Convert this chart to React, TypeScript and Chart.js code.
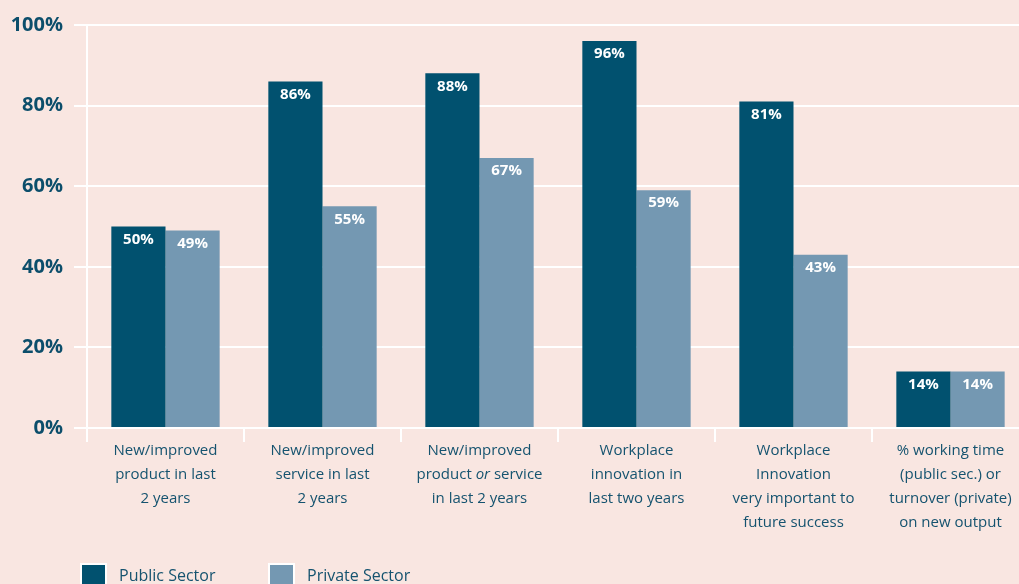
import { useEffect, useRef } from "react";
import { Chart, registerables } from "chart.js";
Chart.register(...registerables);

const categories: string[][] = [
  ["New/improved", "product in last", "2 years"],
  ["New/improved", "service in last", "2 years"],
  ["New/improved", "product _or_ service", "in last 2 years"],
  ["Workplace", "innovation in", "last two years"],
  ["Workplace", "Innovation", "very important to", "future success"],
  ["% working time", "(public sec.) or", "turnover (private)", "on new output"],
];
const publicSector = [50, 86, 88, 96, 81, 14];
const privateSector = [49, 55, 67, 59, 43, 14];
const seriesNames = ["Public Sector", "Private Sector"];
const yMin = 0;
const yMax = 100;
const yStep = 20;

const BG = "#f9e6e1";
const DARK = "#01516f";
const LIGHT = "#7498b2";
const TEXT = "#15536f";
const YTEXT = "#0c4e6b";
const W = 1040;
const H = 600;

const chartPlugin = {
  id: "custom",
  beforeDraw(chart: any) {
    const ctx = chart.ctx;
    ctx.save();
    ctx.fillStyle = BG;
    ctx.fillRect(0, 0, chart.width, chart.height);
    ctx.restore();
  },
  afterDraw(chart: any) {
    const ctx = chart.ctx;
    const xs = chart.scales.x;
    const area = chart.chartArea;
    ctx.save();
    // value labels
    ctx.fillStyle = "#ffffff";
    ctx.font = "bold 15px 'Open Sans'";
    ctx.textAlign = "center";
    ctx.textBaseline = "middle";
    chart.data.datasets.forEach((ds: any, di: number) => {
      const meta = chart.getDatasetMeta(di);
      meta.data.forEach((el: any, i: number) => {
        ctx.fillText(ds.data[i] + "%", el.x, el.y + 13);
      });
    });
    // category labels (with italic segments)
    ctx.fillStyle = TEXT;
    ctx.textAlign = "left";
    categories.forEach((lines, i) => {
      const cx = xs.getPixelForValue(i);
      lines.forEach((line, li) => {
        const segs = line.split("_").map((t, k) => ({ t, it: k % 2 === 1 }));
        let total = 0;
        segs.forEach((s) => {
          ctx.font = (s.it ? "italic " : "") + "500 15px 'Open Sans'";
          total += ctx.measureText(s.t).width;
        });
        let x = cx - total / 2;
        const y = area.bottom + 23 + li * 24;
        segs.forEach((s) => {
          ctx.font = (s.it ? "italic " : "") + "500 15px 'Open Sans'";
          ctx.fillText(s.t, x, y);
          x += ctx.measureText(s.t).width;
        });
      });
    });
    // legend
    const legendX = [80, 268];
    chart.data.datasets.forEach((ds: any, di: number) => {
      const bx = legendX[di];
      const by = 563;
      ctx.fillStyle = "#ffffff";
      ctx.fillRect(bx, by, 27, 27);
      ctx.fillStyle = ds.backgroundColor;
      ctx.fillRect(bx + 2, by + 2, 23, 23);
      ctx.fillStyle = TEXT;
      ctx.font = "500 16px 'Open Sans'";
      ctx.textBaseline = "alphabetic";
      ctx.textAlign = "left";
      ctx.fillText(ds.label, bx + 39, 581);
    });
    ctx.restore();
  },
};

export default function App() {
  const ref = useRef<HTMLCanvasElement>(null);
  useEffect(() => {
    document.body.style.background = BG;
    document.body.style.overflow = "hidden";
    const chart = new Chart(ref.current as HTMLCanvasElement, {
      type: "bar",
      data: {
        labels: categories.map((c) => c.join(" ")),
        datasets: [
          { label: seriesNames[0], data: publicSector, backgroundColor: DARK, categoryPercentage: 0.69, barPercentage: 1 },
          { label: seriesNames[1], data: privateSector, backgroundColor: LIGHT, categoryPercentage: 0.69, barPercentage: 1 },
        ],
      },
      options: {
        responsive: false,
        animation: false,
        devicePixelRatio: 1,
        layout: { padding: { top: 25, right: 11, left: 0, bottom: 0 } },
        plugins: { legend: { display: false }, tooltip: { enabled: false } },
        scales: {
          x: {
            offset: true,
            grid: { offset: true, drawOnChartArea: false, color: "#ffffff", lineWidth: 2, tickLength: 14 },
            border: { display: false },
            ticks: { display: false },
            afterFit: (s: any) => {
              s.height = H - 428;
            },
          },
          y: {
            min: yMin,
            max: yMax,
            ticks: {
              stepSize: yStep,
              callback: (v: any) => v + "%",
              color: YTEXT,
              font: { family: "'Open Sans'", weight: "bold", size: 20 },
              padding: 11,
            },
            grid: { color: "#ffffff", lineWidth: 2, tickLength: 13 },
            border: { color: "#ffffff", width: 2 },
            afterFit: (s: any) => {
              s.width = 87;
            },
          },
        },
      },
      plugins: [chartPlugin],
    } as any);
    return () => chart.destroy();
  }, []);
  return (
    <div style={{ position: "fixed", left: 0, top: 0, width: W, height: H, background: BG }}>
      <canvas ref={ref} width={W} height={H} style={{ display: "block", width: W, height: H }} />
    </div>
  );
}
